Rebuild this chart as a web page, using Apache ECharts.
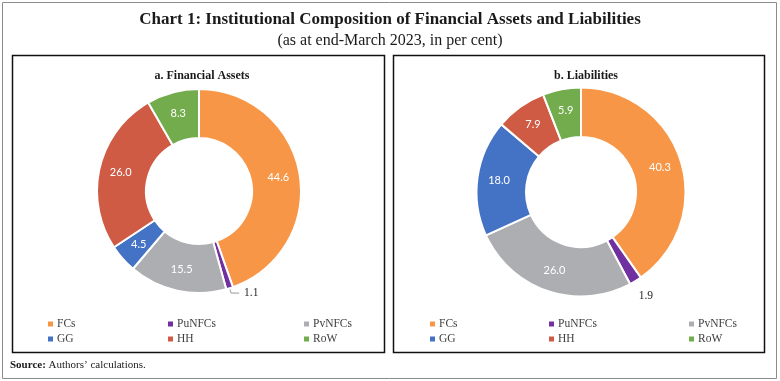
<!DOCTYPE html>
<html><head><meta charset="utf-8">
<script src="https://cdn.jsdelivr.net/npm/echarts@6/dist/echarts.min.js"></script>
<style>html,body{margin:0;padding:0;background:#fff}#c{width:780px;height:381px}</style>
</head><body><div id="c"></div>
<script>
const categories = ['FCs', 'PuNFCs', 'PvNFCs', 'GG', 'HH', 'RoW'];
const assetsValues = [44.6, 1.1, 15.5, 4.5, 26.0, 8.3];
const liabilitiesValues = [40.3, 1.9, 26.0, 18.0, 7.9, 5.9];
const colors = ['#F79646', '#7030A0', '#ADAEB1', '#4472C4', '#CF5B44', '#72AC4D'];

const serif = 'Liberation Serif';
function buildData(vals, smallIdx, smallLabel) {
  return vals.map((v, i) => {
    const d = { name: categories[i], value: v, itemStyle: { color: colors[i] } };
    if (i === smallIdx) d.label = smallLabel;
    return d;
  });
}
const smallLabel = { position: 'outside', color: '#262626', fontFamily: serif, fontSize: 11.5 };

function pie(name, vals, center, radius, smallIdx, lineCfg, layoutFn) {
  return {
    type: 'pie', name: name, center: center, radius: radius,
    startAngle: 90, clockwise: true, avoidLabelOverlap: false,
    itemStyle: { borderColor: '#fff', borderWidth: 2 },
    label: { show: true, position: 'inside', color: '#fff', fontFamily: 'Lato', fontSize: 11,
      formatter: p => p.value.toFixed(1) },
    labelLine: lineCfg,
    labelLayout: layoutFn,
    emphasis: { disabled: true },
    data: buildData(vals, smallIdx, smallLabel)
  };
}

function legendCol(left, items) {
  return {
    data: items, orient: 'vertical', left: left, top: 318, itemGap: 3, padding: 0,
    itemWidth: 7, itemHeight: 7, icon: 'rect', selectedMode: false,
    textStyle: { fontFamily: serif, fontSize: 11.5, color: '#404040', padding: [0, 0, 0, -2] }
  };
}

const chart = echarts.init(document.getElementById('c'));
chart.setOption({
  animation: false,
  title: [
    { text: 'Chart 1: Institutional Composition of Financial Assets and Liabilities', left: 'center', top: 6,
      textStyle: { fontFamily: serif, fontSize: 17, fontWeight: 'bold', color: '#1a1a1a' } },
    { text: '(as at end-March 2023, in per cent)', left: 'center', top: 28,
      textStyle: { fontFamily: serif, fontSize: 16, fontWeight: 'normal', color: '#1a1a1a' } },
    { text: 'a. Financial Assets', left: 197, textAlign: 'center', top: 65,
      textStyle: { fontFamily: serif, fontSize: 12, fontWeight: 'bold', color: '#1a1a1a' } },
    { text: 'b. Liabilities', left: 581, textAlign: 'center', top: 65,
      textStyle: { fontFamily: serif, fontSize: 12, fontWeight: 'bold', color: '#1a1a1a' } },
    { text: '{b|Source:} Authors\u2019 calculations.', left: 5, top: 355,
      textStyle: { rich: { b: { fontFamily: serif, fontSize: 11, fontWeight: 'bold', color: '#1a1a1a' } },
        fontFamily: serif, fontSize: 11, fontWeight: 'normal', color: '#1a1a1a' } }
  ],
  legend: [
    legendCol(46, ['FCs', 'GG']),
    legendCol(166, ['PuNFCs', 'HH']),
    legendCol(302, ['PvNFCs', 'RoW']),
    legendCol(428, ['FCs', 'GG']),
    legendCol(547, ['PuNFCs', 'HH']),
    legendCol(687, ['PvNFCs', 'RoW'])
  ],
  graphic: [
    { type: 'rect', shape: { x: 2.5, y: 2.5, width: 774, height: 376 }, style: { fill: null, stroke: '#8c8c8c', lineWidth: 1 }, silent: true },
    { type: 'rect', shape: { x: 12.5, y: 55.5, width: 372, height: 297 }, style: { fill: null, stroke: '#111', lineWidth: 1.5 }, silent: true },
    { type: 'rect', shape: { x: 393.5, y: 55.5, width: 371, height: 297 }, style: { fill: null, stroke: '#111', lineWidth: 1.5 }, silent: true }
  ],
  series: [
    pie('Financial Assets', assetsValues, [199, 191], [53, 102], 1,
      { show: true, length: 5, length2: 8, lineStyle: { color: '#999', width: 1 } }, null),
    pie('Liabilities', liabilitiesValues, [581, 192], [55, 104.5], 1,
      { show: false, length: 6, length2: 0 },
      p => (p.dataIndex === 1 ? { dx: -5, dy: 10 } : {}))
  ]
});
</script></body></html>
